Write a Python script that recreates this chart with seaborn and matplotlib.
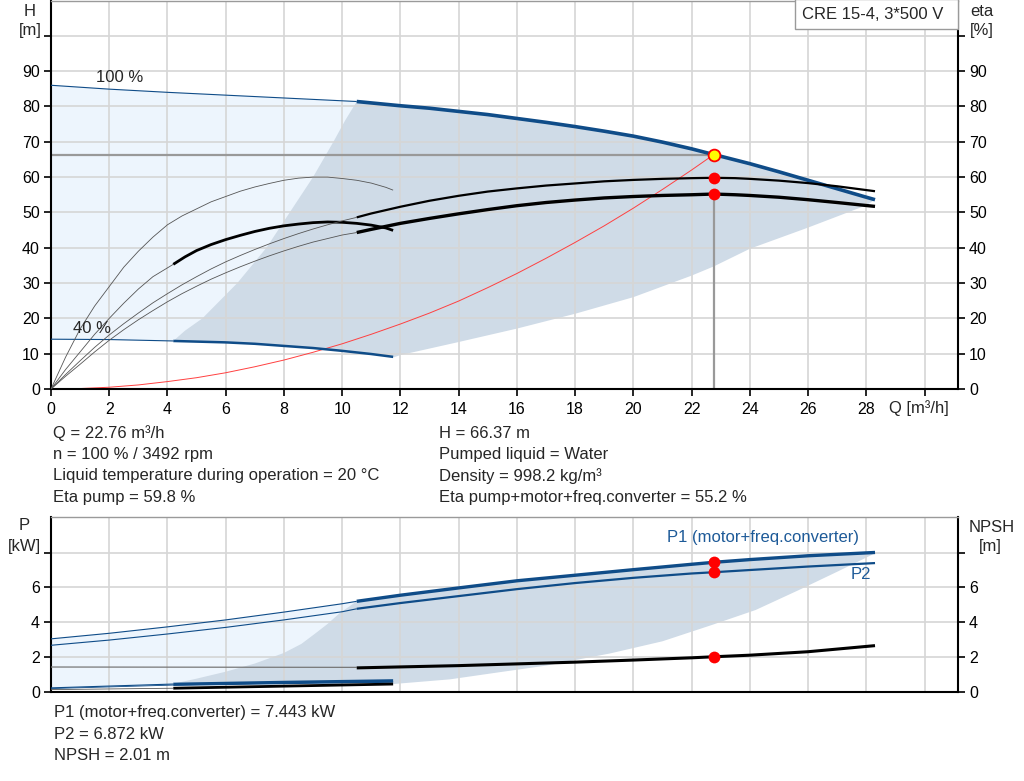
import matplotlib
matplotlib.use("Agg")
import matplotlib.pyplot as plt
import seaborn as sns
from matplotlib.patches import Rectangle

# ---- head / efficiency chart data (Q in m3/h) ----
q_h100_thin = [0, 2, 4, 6, 8, 10, 10.5]
h_100_thin = [86.0, 84.9, 84.0, 83.2, 82.4, 81.6, 81.4]
q_h100 = [10.5, 11, 12, 13, 14, 15, 16, 17, 18, 19, 20, 21, 22, 22.76, 23, 24, 25, 26, 27, 28, 28.3]
h_100 = [81.4, 81.0, 80.2, 79.5, 78.6, 77.7, 76.6, 75.5, 74.3, 73.0, 71.6, 69.9, 68.0, 66.37, 65.9,
         63.8, 61.5, 59.1, 56.7, 54.3, 53.6]

q_h40_thin = [0, 2, 4.2]
h_40_thin = [14.1, 14.0, 13.6]
q_h40 = [4.2, 6, 7, 8, 9, 10, 11, 11.75]
h_40 = [13.6, 13.2, 12.8, 12.2, 11.6, 10.8, 9.9, 9.1]

q_eta_pump_thin = [0, 0.5, 1, 1.5, 2, 2.5, 3, 3.5, 4, 4.5, 5, 5.5, 6, 6.5, 7, 7.5, 8, 8.5, 9, 9.5, 10, 10.5]
eta_pump_thin = [0, 4.1, 8, 11.8, 15.3, 18.5, 21.5, 24.4, 27, 29.5, 31.8, 34, 36, 37.8, 39.5, 41.1, 42.6,
                 44, 45.3, 46.5, 47.6, 48.6]
q_eta_pump = [10.5, 11, 12, 13, 14, 15, 16, 17, 18, 19, 20, 21, 22, 22.76, 23.5, 24, 25, 26, 27, 28.3]
eta_pump = [48.6, 49.7, 51.6, 53.3, 54.7, 55.9, 56.8, 57.6, 58.2, 58.8, 59.2, 59.5, 59.7, 59.8, 59.7,
            59.5, 59.0, 58.3, 57.4, 56.0]

q_eta_tot_thin = [0, 0.5, 1, 1.5, 2, 2.5, 3, 3.5, 4, 4.5, 5, 5.5, 6, 6.5, 7, 7.5, 8, 8.5, 9, 9.5, 10, 10.5]
eta_tot_thin = [0, 3.6, 7, 10.5, 13.8, 16.8, 19.6, 22.2, 24.7, 27, 29.1, 31.1, 32.9, 34.6, 36.2, 37.7,
                39.1, 40.4, 41.6, 42.6, 43.6, 44.3]
q_eta_tot = [10.5, 11, 12, 13, 14, 15, 16, 17, 18, 19, 20, 21, 22, 22.76, 23.5, 24, 25, 26, 27, 28.3]
eta_tot = [44.3, 45.2, 46.9, 48.3, 49.6, 50.8, 51.9, 52.8, 53.5, 54.1, 54.5, 54.8, 55.0, 55.2, 55.0,
           54.8, 54.3, 53.6, 52.8, 51.7]

q_eta_pump40 = [0, 0.5, 1, 1.5, 2, 2.5, 3, 3.5, 4, 4.5, 5, 5.5, 6, 6.5, 7, 7.5, 8, 8.5, 9, 9.5, 10,
                10.5, 11, 11.5, 11.75]
eta_pump40 = [0, 9, 17, 23.5, 29, 34.5, 39, 43, 46.5, 49, 51, 53, 54.5, 56, 57.2, 58.2, 59.1, 59.7,
              60, 60, 59.6, 59.1, 58.3, 57.1, 56.3]
q_eta_tot40_thin = [0, 0.5, 1, 1.5, 2, 2.5, 3, 3.5, 4.2]
eta_tot40_thin = [0, 5.5, 10.5, 15.5, 20, 24.3, 28.3, 31.8, 35.3]
q_eta_tot40 = [4.2, 4.6, 5, 5.5, 6, 6.5, 7, 7.5, 8, 8.5, 9, 9.5, 10, 10.5, 11, 11.5, 11.75]
eta_tot40 = [35.3, 37.4, 39.2, 40.9, 42.3, 43.5, 44.6, 45.5, 46.2, 46.7, 47.1, 47.3, 47.2, 46.9, 46.4,
             45.6, 44.9]

q_system = [0, 1, 2, 3, 4, 5, 6, 7, 8, 9, 10, 11, 12, 13, 14, 15, 16, 17, 18, 19, 20, 21, 22, 22.76]
h_system = [0, 0.13, 0.5, 1.15, 2.1, 3.2, 4.6, 6.3, 8.2, 10.4, 12.8, 15.5, 18.4, 21.5, 24.9, 28.7,
            32.7, 37.0, 41.5, 46.2, 51.2, 56.5, 62.0, 66.37]

# recommended area boundaries (head chart)
q_area_left = [4.2, 4.6, 5.2, 5.8, 6.4, 6.9, 7.4, 7.8, 8.2, 8.6, 9.0, 9.35, 9.7, 10.1, 10.5]
h_area_left = [13.6, 16.5, 20, 25, 30, 35, 40, 45, 50, 55, 60, 65, 70, 76, 81.4]
q_area_low = [11.75, 12, 14, 16, 18, 20, 22, 22.76, 24, 26, 28.0]
h_area_low = [8.9, 9.6, 13.3, 17.1, 21.3, 26.0, 32.1, 34.7, 39.7, 45.7, 52.0]

# duty point
q_duty = 22.76
h_duty = 66.37
eta_pump_duty = 59.8
eta_tot_duty = 55.2

# ---- power / NPSH chart data ----
q_p_thin = [0, 2, 4, 6, 8, 10, 10.5]
p1_thin = [3.04, 3.36, 3.73, 4.13, 4.58, 5.06, 5.2]
p2_thin = [2.67, 2.97, 3.32, 3.7, 4.13, 4.6, 4.77]
q_p = [10.5, 12, 14, 16, 18, 20, 22, 22.76, 24, 26, 28.3]
p1 = [5.2, 5.55, 5.97, 6.38, 6.70, 7.02, 7.33, 7.443, 7.6, 7.82, 8.01]
p2 = [4.77, 5.1, 5.5, 5.9, 6.25, 6.55, 6.8, 6.872, 7.0, 7.2, 7.4]
q_npsh_thin = [0, 10.5]
npsh_thin = [1.42, 1.40]
q_npsh = [10.5, 14, 16, 18, 20, 22, 22.76, 24, 26, 28.3]
npsh = [1.37, 1.5, 1.6, 1.7, 1.82, 1.95, 2.01, 2.1, 2.3, 2.65]

q_40_thin = [0, 4.2]
p1_40_thin = [0.22, 0.44]
p2_40_thin = [0.18, 0.38]
npsh_40_thin = [0.12, 0.2]
q_40 = [4.2, 8, 11.75]
p1_40 = [0.44, 0.55, 0.64]
p2_40 = [0.38, 0.48, 0.56]
npsh_40 = [0.2, 0.32, 0.44]

q_parea_left = [4.2, 5, 6, 7, 8, 8.6, 9.1, 9.5, 9.9, 10.5]
p_parea_left = [0.46, 0.75, 1.15, 1.62, 2.23, 2.75, 3.38, 3.9, 4.5, 5.2]
q_parea_low = [11.75, 13.7, 15.4, 17, 19.2, 21, 22.7, 24.2, 25.7, 27, 28.2]
p_parea_low = [0.44, 0.71, 1.12, 1.5, 2.2, 2.9, 3.84, 4.7, 5.86, 6.9, 7.88]

p1_duty = 7.443
p2_duty = 6.872
npsh_duty = 2.01

x_ticks = list(range(0, 31, 2))
x_labels = [str(t) for t in x_ticks[:-1]] + [""]
h_ticks = list(range(0, 101, 10))
h_labels = [str(t) for t in h_ticks[:-1]] + [""]
p_ticks = [0, 2, 4, 6, 8]
p_labels = ["0", "2", "4", "6", ""]

BLUE = "#0f4c88"
LIGHT = "#edf5fd"
DARK = "#cfdbe7"
GRID = "#d6d6d6"
THIN = "#555555"
FS = 12

sns.set_theme(style="white")
plt.rcParams["font.family"] = ["Liberation Sans", "DejaVu Sans"]
plt.rcParams["font.size"] = FS

fig = plt.figure(figsize=(10.24, 7.81), dpi=100)
W, H = 1024, 781
X0, X1 = 51, 958
ax = fig.add_axes([X0 / W, (H - 389) / H, (X1 - X0) / W, 388.5 / H])
bx = fig.add_axes([X0 / W, (H - 691.7) / H, (X1 - X0) / W, 174.7 / H])


def curve(a, q, v, color, lw, z=3):
    sns.lineplot(x=q, y=v, ax=a, color=color, linewidth=lw, zorder=z,
                 solid_capstyle="butt")


def style_axes(a, ylim, yticks, ylabels):
    a.set_xlim(0, 31.15)
    a.set_ylim(*ylim)
    a.set_xticks(x_ticks)
    a.set_yticks(yticks)
    a.set_yticklabels(ylabels)
    a.set_xlabel("")
    a.set_ylabel("")
    a.grid(True, color=GRID, linewidth=1.2)
    a.set_axisbelow(True)
    a.tick_params(axis="y", which="both", direction="out", length=5, width=1.2,
                  left=True, right=True, labelleft=True, labelright=True,
                  labelsize=11.5, pad=3, colors="black")
    a.tick_params(axis="x", direction="out", length=5, width=1.2, bottom=True,
                  labelsize=11.5, pad=4, colors="black")
    for s in ["left", "right", "bottom"]:
        a.spines[s].set_color("black")
        a.spines[s].set_linewidth(1.5)
    a.spines["top"].set_color("#9a9a9a")
    a.spines["top"].set_linewidth(1.0)


# ---------------- head chart ----------------
light_q = q_h100_thin + q_h100[1:3] + [11.75] + q_h40[::-1] + q_h40_thin[::-1]
light_h = h_100_thin + h_100[1:3] + [h_40[-1]] + h_40[::-1] + h_40_thin[::-1]
ax.fill(light_q, light_h, color=LIGHT, linewidth=0, zorder=0.2)
dark_q = q_area_left + q_h100[1:] + q_area_low[::-1] + q_h40[::-1]
dark_h = h_area_left + h_100[1:] + h_area_low[::-1] + h_40[::-1]
ax.fill(dark_q, dark_h, color=DARK, linewidth=0, zorder=0.3)

# duty point guide lines
ax.plot([0, q_duty], [h_duty, h_duty], color="#999999", linewidth=1.6, zorder=1)
ax.plot([q_duty, q_duty], [0, eta_tot_duty], color="#999999", linewidth=1.6, zorder=1)

curve(ax, q_system, h_system, "#ff4040", 0.7, 2)
curve(ax, q_h100_thin, h_100_thin, BLUE, 0.8)
curve(ax, q_h100, h_100, BLUE, 2.6)
curve(ax, q_h40_thin, h_40_thin, BLUE, 0.8)
curve(ax, q_h40, h_40, BLUE, 1.8)
curve(ax, q_eta_pump40, eta_pump40, THIN, 0.6)
curve(ax, q_eta_tot40_thin, eta_tot40_thin, THIN, 0.6)
curve(ax, q_eta_tot40, eta_tot40, "black", 2.0)
curve(ax, q_eta_pump_thin, eta_pump_thin, THIN, 0.6)
curve(ax, q_eta_tot_thin, eta_tot_thin, THIN, 0.6)
curve(ax, q_eta_pump, eta_pump, "black", 1.6)
curve(ax, q_eta_tot, eta_tot, "black", 2.4)

ax.scatter([q_duty, q_duty], [eta_pump_duty, eta_tot_duty], s=72, color="#ff0000",
           zorder=5, linewidths=0)
ax.scatter([q_duty], [h_duty], s=72, color="#ffff00", edgecolors="#ff0000",
           linewidths=1.3, zorder=6)

ax.text(1.55, 88.3, "100 %", fontsize=FS, va="center", ha="left", zorder=7)
ax.text(0.75, 17.2, "40 %", fontsize=FS, va="center", ha="left", zorder=7)

style_axes(ax, (0, 110), h_ticks, h_labels)
ax.set_xticklabels(x_labels)
ax.text(0.9235, -0.049, "Q [m³/h]", transform=ax.transAxes, fontsize=FS,
        ha="left", va="center", clip_on=False)

ax.add_patch(Rectangle((25.55, 101.9), 31.15 - 25.55, 8.5, facecolor="white",
                       edgecolor="#9a9a9a", linewidth=1.0, zorder=8, clip_on=False))
ax.text(25.78, 106.0, "CRE 15-4, 3*500 V", fontsize=FS, va="center", ha="left", zorder=9)

fig.text(30 / W, 1 - 11 / H, "H", ha="center", va="center", fontsize=FS)
fig.text(30 / W, 1 - 30 / H, "[m]", ha="center", va="center", fontsize=FS)
fig.text(982 / W, 1 - 11 / H, "eta", ha="center", va="center", fontsize=FS)
fig.text(982 / W, 1 - 30 / H, "[%]", ha="center", va="center", fontsize=FS)

info_left = ["Q = 22.76 m³/h", "n = 100 % / 3492 rpm",
             "Liquid temperature during operation = 20 °C", "Eta pump = 59.8 %"]
info_right = ["H = 66.37 m", "Pumped liquid = Water", "Density = 998.2 kg/m³",
              "Eta pump+motor+freq.converter = 55.2 %"]
for i, (l, r) in enumerate(zip(info_left, info_right)):
    yy = 1 - (433 + i * 21.5) / H
    fig.text(53 / W, yy, l, ha="left", va="center", fontsize=FS)
    fig.text(439 / W, yy, r, ha="left", va="center", fontsize=FS)

# ---------------- power / NPSH chart ----------------
plight_q = q_p_thin + [11.75] + q_40[::-1] + q_40_thin[::-1]
plight_p = p1_thin + [p1_40[-1]] + p1_40[::-1] + p2_40_thin[::-1]
bx.fill(plight_q, plight_p, color=LIGHT, linewidth=0, zorder=0.2)
pdark_q = q_parea_left + q_p[1:] + q_parea_low[::-1] + q_40[::-1]
pdark_p = p_parea_left + p1[1:] + p_parea_low[::-1] + p1_40[::-1]
bx.fill(pdark_q, pdark_p, color=DARK, linewidth=0, zorder=0.3)

curve(bx, q_p_thin, p1_thin, BLUE, 0.8)
curve(bx, q_p_thin, p2_thin, BLUE, 0.8)
curve(bx, q_p, p1, BLUE, 2.4)
curve(bx, q_p, p2, BLUE, 1.6)
curve(bx, q_npsh_thin, npsh_thin, "#777777", 0.9)
curve(bx, q_npsh, npsh, "black", 2.2)
curve(bx, q_40_thin, p1_40_thin, BLUE, 0.8)
curve(bx, q_40_thin, p2_40_thin, BLUE, 0.6)
curve(bx, q_40_thin, npsh_40_thin, THIN, 0.6)
curve(bx, q_40, p1_40, BLUE, 2.0)
curve(bx, q_40, p2_40, BLUE, 1.2)
curve(bx, q_40, npsh_40, "black", 2.0)

bx.scatter([q_duty] * 3, [p1_duty, p2_duty, npsh_duty], s=72, color="#ff0000",
           zorder=5, linewidths=0)

style_axes(bx, (0, 10.05), p_ticks, p_labels)
bx.set_xticklabels([])
bx.tick_params(axis="x", length=0)

bx.text(21.17, 8.85, "P1 (motor+freq.converter)", color="#1d5a98", fontsize=FS,
        ha="left", va="center", zorder=7)
bx.text(27.45, 6.75, "P2", color="#1d5a98", fontsize=FS, ha="left", va="center",
        zorder=7)

fig.text(24 / W, 1 - 525 / H, "P", ha="center", va="center", fontsize=FS)
fig.text(24 / W, 1 - 546 / H, "[kW]", ha="center", va="center", fontsize=FS)
fig.text(992 / W, 1 - 527 / H, "NPSH", ha="center", va="center", fontsize=FS)
fig.text(990 / W, 1 - 547 / H, "[m]", ha="center", va="center", fontsize=FS)

info_bottom = ["P1 (motor+freq.converter) = 7.443 kW", "P2 = 6.872 kW", "NPSH = 2.01 m"]
for i, t in enumerate(info_bottom):
    fig.text(54 / W, 1 - (713 + i * 21.5) / H, t, ha="left", va="center", fontsize=FS)

fig.savefig("out.png", dpi=100)
